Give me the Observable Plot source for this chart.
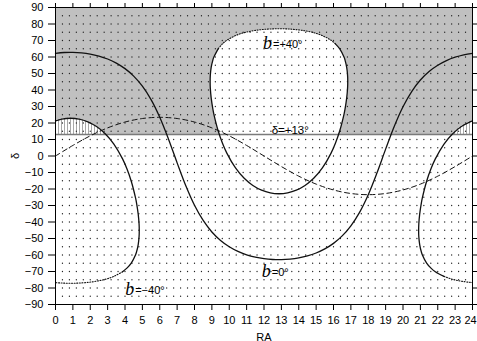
<!DOCTYPE html>
<html><head><meta charset="utf-8">
<script src="https://cdn.jsdelivr.net/npm/d3@7"></script>
<script src="https://cdn.jsdelivr.net/npm/@observablehq/plot@0.6"></script>
<style>html,body{margin:0;padding:0;background:#fff;}</style>
</head><body><div id="chart"></div>
<script>
// ---- data (RA in hours, declination in degrees) ----
const xTicks = [0,1,2,3,4,5,6,7,8,9,10,11,12,13,14,15,16,17,18,19,20,21,22,23,24];
const yTicks = [-90,-80,-70,-60,-50,-40,-30,-20,-10,0,10,20,30,40,50,60,70,80,90];
const declLimit = 13;

// ecliptic (dashed)
const eclRa  = [0,1,2,3,4,5,6,7,8,9,10,11,12,13,14,15,16,17,18,19,20,21,22,23,24];
const eclDec = [0,6.40,12.23,17.04,20.58,22.72,23.44,22.72,20.58,17.04,12.23,6.40,0,-6.40,-12.23,-17.04,-20.58,-22.72,-23.44,-22.72,-20.58,-17.04,-12.23,-6.40,0];

// b = 0 (galactic equator)
const b0Ra  = [0,0.5,1,1.5,2,2.5,3,3.5,4,4.5,5,5.5,6,6.5,7,7.5,8,8.5,9,9.5,10,10.5,11,11.5,12,12.5,13,13.5,14,14.5,15,15.5,16,16.5,17,17.5,18,18.5,19,19.5,20,20.5,21,21.5,22,22.5,23,23.5,24];
const b0Dec = [62.24,62.73,62.82,62.50,61.76,60.55,58.78,56.32,52.96,48.43,42.32,34.14,23.45,10.31,-4.16,-18.07,-29.87,-39.08,-46.03,-51.18,-55.00,-57.83,-59.87,-61.30,
               -62.24,-62.73,-62.82,-62.50,-61.76,-60.55,-58.78,-56.32,-52.96,-48.43,-42.32,-34.14,-23.45,-10.31,4.16,18.07,29.87,39.08,46.03,51.18,55.00,57.83,59.87,61.30,62.24];

// b = +40 loop: solid part and dotted top part
const p40SolidRa  = [9.36,9.11,9.06,8.96,8.91,8.90,8.91,8.96,9.06,9.11,9.36,9.61,9.86,10.36,10.86,11.36,11.86,12.36,12.86,13.36,13.86,14.36,14.86,15.36,15.86,16.11,16.36,16.61,16.66,16.76,16.81,16.82,16.81,16.76,16.66,16.61,16.36,16.11];
const p40SolidDec = [64.89,59.81,58.29,53.66,48.86,45.18,41.26,35.22,28.21,25.55,15.27,7.74,1.74,-7.25,-13.53,-17.87,-20.72,-22.35,-22.87,-22.35,-20.72,-17.87,-13.53,-7.25,1.74,7.74,15.27,25.55,28.21,35.22,41.26,45.18,48.86,53.66,58.29,59.81,64.89,67.96];
const p40DotRa    = [16.11,15.86,15.36,14.86,14.36,13.86,13.36,12.86,12.36,11.86,11.36,10.86,10.36,9.86,9.61,9.36];
const p40DotDec   = [67.96,70.12,72.97,74.75,75.87,76.60,76.99,77.13,76.99,76.60,75.87,74.75,72.97,70.12,67.96,64.89];

// b = -40 : left piece (RA 0..4.8) and right piece (RA 20.9..24)
const m40LeftSolidRa  = [0,0.36,0.86,1.36,1.86,2.36,2.86,3.36,3.86,4.11,4.36,4.61,4.66,4.76,4.81,4.82,4.81,4.76,4.66,4.61,4.36,4.11,3.86];
const m40LeftSolidDec = [21.28,22.35,22.87,22.35,20.72,17.87,13.53,7.25,-1.74,-7.74,-15.27,-25.55,-28.21,-35.22,-41.26,-45.18,-48.86,-53.66,-58.29,-59.81,-64.89,-67.96,-70.12];
const m40LeftDotRa    = [3.86,3.36,2.86,2.36,1.86,1.36,0.86,0.36,0];
const m40LeftDotDec   = [-70.12,-72.97,-74.75,-75.87,-76.60,-76.99,-77.13,-76.99,-76.74];
const m40RightSolidRa  = [24,23.86,23.36,22.86,22.36,21.86,21.61,21.36,21.11,21.06,20.96,20.91,20.90,20.91,20.96,21.06,21.11,21.36,21.61,21.86,22.36];
const m40RightSolidDec = [21.28,20.72,17.87,13.53,7.25,-1.74,-7.74,-15.27,-25.55,-28.21,-35.22,-41.26,-45.18,-48.86,-53.66,-58.29,-59.81,-64.89,-67.96,-70.12,-72.97];
const m40RightDotRa    = [22.36,22.86,23.36,23.86,24];
const m40RightDotDec   = [-72.97,-74.75,-75.87,-76.60,-76.74];

// hatched caps (inside b=-40 above the declination limit)
const hatchLeftRa   = [0,0.36,0.86,1.36,1.86,2.36,2.86,2.88];
const hatchLeftDec  = [21.28,22.35,22.87,22.35,20.72,17.87,13.53,13];
const hatchRightRa  = [22.84,22.86,23.36,23.86,24];
const hatchRightDec = [13,13.53,17.87,20.72,21.28];

// labels
const curveLabelRa   = [11.94, 11.87, 4.01];
const curveLabelDec  = [68.5, -69.7, -80.6];
const curveLabelText = ["=+40°", "=0°", "=\u221240°"];
const limitLabel = {ra: 12.44, dec: 15.8, text: "δ=+13°"};

// ---- helpers ----
const pts = (ra, dec) => ra.map((r, i) => ({ra: r, dec: dec[i]}));
const gridPts = [];
for (const r of d3.range(0.4, 23.9, 0.4)) for (const d of d3.range(-85, 86, 5)) gridPts.push({ra: r, dec: d});
const labels = curveLabelRa.map((r, i) => ({ra: r, dec: curveLabelDec[i], text: curveLabelText[i]}));

const p40Loop = pts(p40SolidRa, p40SolidDec).concat(pts(p40DotRa, p40DotDec).slice(1, -1));
const ink = "#111";
const dotted = "1,1.6";
const lastTick = xTicks[xTicks.length - 1];

const svg = Plot.plot({
  width: 477, height: 341,
  marginLeft: 55, marginRight: 5, marginTop: 7, marginBottom: 37,
  x: {domain: [0, 24]},
  y: {domain: [-90, 90]},
  style: {fontFamily: "'Liberation Sans', Arial, sans-serif", fontSize: "11px", background: "white", color: "black"},
  marks: [
    Plot.rect([{}], {x1: 0, x2: 24, y1: declLimit, y2: 90, fill: "#c0c0c0"}),
    Plot.line(p40Loop, {x: "ra", y: "dec", fill: "white", stroke: "none", curve: "catmull-rom-closed"}),
    Plot.areaY(pts(hatchLeftRa, hatchLeftDec), {x: "ra", y1: declLimit, y2: "dec", fill: "url(#hatch)", curve: "catmull-rom"}),
    Plot.areaY(pts(hatchRightRa, hatchRightDec), {x: "ra", y1: declLimit, y2: "dec", fill: "url(#hatch)", curve: "catmull-rom"}),
    Plot.dot(gridPts, {x: "ra", y: "dec", r: 0.65, fill: "#222", stroke: "none"}),
    Plot.ruleY([declLimit], {stroke: "#7a7a7a", strokeWidth: 1.6}),
    Plot.line(pts(eclRa, eclDec), {x: "ra", y: "dec", stroke: ink, strokeWidth: 1, strokeDasharray: "5,3.5", curve: "catmull-rom"}),
    Plot.line(pts(b0Ra, b0Dec), {x: "ra", y: "dec", stroke: ink, strokeWidth: 1.3, curve: "catmull-rom"}),
    Plot.line(pts(p40SolidRa, p40SolidDec), {x: "ra", y: "dec", stroke: ink, strokeWidth: 1.3, curve: "catmull-rom"}),
    Plot.line(pts(p40DotRa, p40DotDec), {x: "ra", y: "dec", stroke: ink, strokeWidth: 1.1, strokeDasharray: dotted, curve: "catmull-rom"}),
    Plot.line(pts(m40LeftSolidRa, m40LeftSolidDec), {x: "ra", y: "dec", stroke: ink, strokeWidth: 1.3, curve: "catmull-rom"}),
    Plot.line(pts(m40LeftDotRa, m40LeftDotDec), {x: "ra", y: "dec", stroke: ink, strokeWidth: 1.1, strokeDasharray: dotted, curve: "catmull-rom"}),
    Plot.line(pts(m40RightSolidRa, m40RightSolidDec), {x: "ra", y: "dec", stroke: ink, strokeWidth: 1.3, curve: "catmull-rom"}),
    Plot.line(pts(m40RightDotRa, m40RightDotDec), {x: "ra", y: "dec", stroke: ink, strokeWidth: 1.1, strokeDasharray: dotted, curve: "catmull-rom"}),
    Plot.text(labels, {x: "ra", y: "dec", text: () => "b", textAnchor: "start", fontFamily: "'Liberation Serif', 'DejaVu Serif', serif", fontStyle: "italic", fontSize: 18, fill: "black"}),
    Plot.text(labels, {x: "ra", y: "dec", text: "text", textAnchor: "start", dx: 10, dy: 1, fontSize: 11, fill: "black"}),
    Plot.text([limitLabel], {x: "ra", y: "dec", text: "text", textAnchor: "start", fontSize: 11.5, fill: "black"}),
    Plot.axisX({anchor: "bottom", ticks: xTicks, tickSize: 6, tickPadding: 6, tickFormat: d => d === lastTick ? "" : String(d), label: "RA", labelAnchor: "center", labelArrow: "none", labelOffset: 36}),
    Plot.axisX({anchor: "bottom", ticks: [lastTick], tickSize: 0, tickPadding: 12, dx: -2, label: null}),
    Plot.axisX({anchor: "top", ticks: xTicks, tickSize: 5, tickFormat: () => "", label: null}),
    Plot.axisY({anchor: "left", ticks: yTicks, tickSize: 7, tickPadding: 5, label: "δ", labelAnchor: "center", labelArrow: "none", labelOffset: 44}),
    Plot.axisY({anchor: "right", ticks: yTicks, tickSize: 5, tickFormat: () => "", label: null}),
    Plot.frame({stroke: "black"})
  ]
});

const ns = "http://www.w3.org/2000/svg";
const defs = document.createElementNS(ns, "defs");
defs.innerHTML = '<pattern id="hatch" patternUnits="userSpaceOnUse" width="3" height="8"><rect width="3" height="8" fill="white"/><line x1="1.5" y1="0" x2="1.5" y2="8" stroke="#a8a8a8" stroke-width="1"/></pattern>';
svg.insertBefore(defs, svg.firstChild);
document.getElementById("chart").appendChild(svg);
</script>
</body></html>
